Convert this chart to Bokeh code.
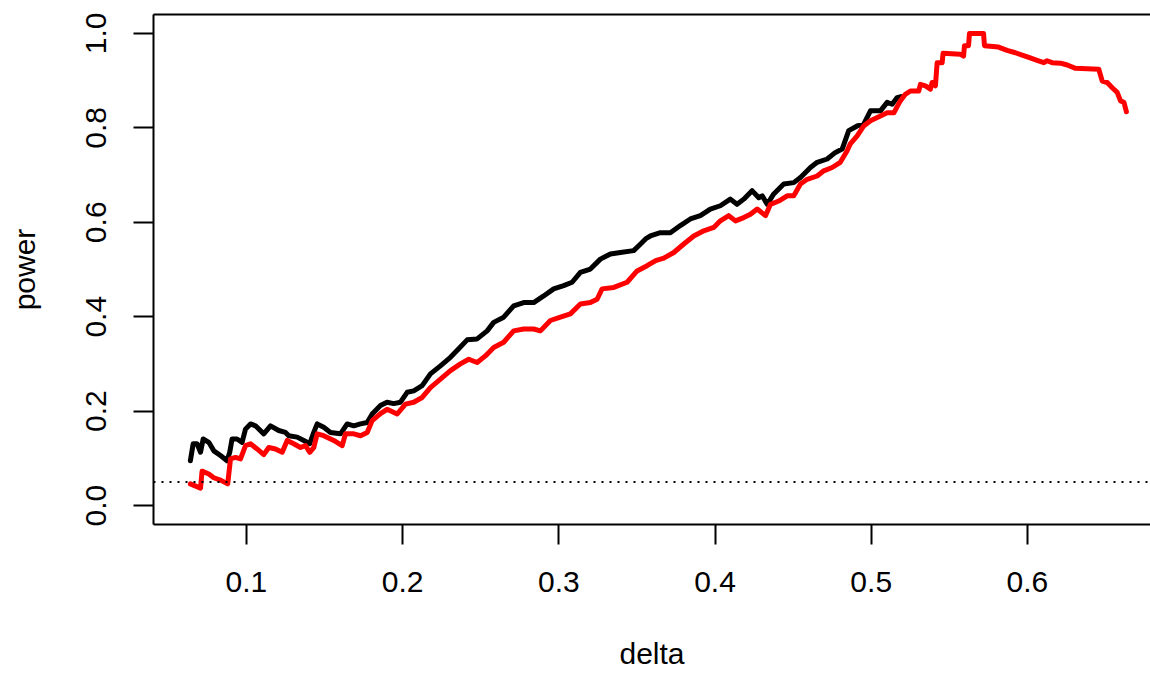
from bokeh.plotting import figure
from bokeh.models import FixedTicker, PrintfTickFormatter, Span, LinearAxis, Range1d
from bokeh.embed import file_html
from bokeh.resources import INLINE

# ---- data ----
black_delta = [0.0641, 0.0659, 0.0684, 0.0706, 0.0723, 0.0759, 0.0791, 0.0834, 0.0876, 0.0893,
               0.0908, 0.0940, 0.0972, 0.0994, 0.1026, 0.1058, 0.1111, 0.1154, 0.1207, 0.1250,
               0.1271, 0.1325, 0.1367, 0.1405, 0.1431, 0.1453, 0.1495, 0.1538, 0.1602, 0.1645,
               0.1687, 0.1730, 0.1773, 0.1805, 0.1858, 0.1900, 0.1943, 0.1986, 0.2029, 0.2071,
               0.2125, 0.2178, 0.2242, 0.2306, 0.2359, 0.2413, 0.2477, 0.2541, 0.2583, 0.2647,
               0.2711, 0.2775, 0.2839, 0.2903, 0.2967, 0.3031, 0.3085, 0.3138, 0.3202, 0.3266,
               0.3330, 0.3394, 0.3479, 0.3520, 0.3560, 0.3586, 0.3650, 0.3714, 0.3778, 0.3842,
               0.3906, 0.3970, 0.4034, 0.4098, 0.4141, 0.4184, 0.4237, 0.4280, 0.4302, 0.4334,
               0.4376, 0.4440, 0.4504, 0.4547, 0.4611, 0.4654, 0.4718, 0.4771, 0.4814, 0.4856,
               0.4910, 0.4952, 0.4995, 0.5059, 0.5102, 0.5134, 0.5166, 0.5190]
black_power = [0.095, 0.131, 0.131, 0.113, 0.141, 0.134, 0.116, 0.106, 0.095, 0.113,
               0.141, 0.141, 0.134, 0.162, 0.173, 0.169, 0.152, 0.169, 0.159, 0.155,
               0.148, 0.145, 0.138, 0.131, 0.155, 0.173, 0.166, 0.155, 0.152, 0.173,
               0.169, 0.173, 0.176, 0.194, 0.212, 0.219, 0.216, 0.219, 0.240, 0.243,
               0.254, 0.279, 0.296, 0.314, 0.332, 0.351, 0.353, 0.370, 0.388, 0.399,
               0.423, 0.430, 0.430, 0.444, 0.459, 0.466, 0.473, 0.494, 0.501, 0.522,
               0.533, 0.536, 0.540, 0.553, 0.566, 0.571, 0.578, 0.578, 0.593, 0.607,
               0.614, 0.628, 0.635, 0.649, 0.638, 0.649, 0.667, 0.652, 0.656, 0.638,
               0.660, 0.681, 0.684, 0.695, 0.716, 0.727, 0.734, 0.748, 0.755, 0.794,
               0.804, 0.808, 0.836, 0.836, 0.854, 0.850, 0.864, 0.866]

red_delta = [0.0641, 0.0706, 0.0716, 0.0759, 0.0791, 0.0834, 0.0880, 0.0898, 0.0930, 0.0962,
             0.0994, 0.1026, 0.1068, 0.1111, 0.1143, 0.1186, 0.1229, 0.1261, 0.1303, 0.1346,
             0.1378, 0.1405, 0.1431, 0.1453, 0.1495, 0.1559, 0.1613, 0.1634, 0.1687, 0.1730,
             0.1773, 0.1805, 0.1858, 0.1900, 0.1965, 0.2018, 0.2071, 0.2125, 0.2178, 0.2242,
             0.2306, 0.2370, 0.2423, 0.2477, 0.2530, 0.2583, 0.2647, 0.2711, 0.2775, 0.2839,
             0.2882, 0.2946, 0.3010, 0.3074, 0.3138, 0.3202, 0.3245, 0.3277, 0.3352, 0.3437,
             0.3501, 0.3565, 0.3620, 0.3672, 0.3736, 0.3800, 0.3864, 0.3928, 0.3992, 0.4034,
             0.4088, 0.4131, 0.4184, 0.4227, 0.4270, 0.4323, 0.4355, 0.4408, 0.4462, 0.4504,
             0.4547, 0.4590, 0.4654, 0.4696, 0.4750, 0.4802, 0.4845, 0.4866, 0.4910, 0.4952,
             0.4995, 0.5059, 0.5102, 0.5145, 0.5186, 0.5218, 0.5251, 0.5304, 0.5315, 0.5347,
             0.5379, 0.5390, 0.5411, 0.5422, 0.5454, 0.5460, 0.5569, 0.5591, 0.5597, 0.5623,
             0.5629, 0.5719, 0.5725, 0.5815, 0.5870, 0.5923, 0.5966, 0.6009, 0.6062, 0.6105,
             0.6126, 0.6158, 0.6212, 0.6255, 0.6308, 0.6457, 0.6479, 0.6511, 0.6543, 0.6575,
             0.6596, 0.6618, 0.6634]
red_power = [0.046, 0.037, 0.073, 0.067, 0.059, 0.054, 0.046, 0.099, 0.102, 0.099,
             0.127, 0.131, 0.120, 0.108, 0.123, 0.120, 0.113, 0.138, 0.131, 0.123,
             0.127, 0.113, 0.123, 0.152, 0.148, 0.138, 0.127, 0.152, 0.152, 0.148,
             0.155, 0.180, 0.195, 0.204, 0.194, 0.215, 0.219, 0.229, 0.250, 0.268,
             0.286, 0.300, 0.310, 0.303, 0.317, 0.335, 0.346, 0.370, 0.374, 0.374,
             0.370, 0.392, 0.399, 0.406, 0.427, 0.430, 0.437, 0.459, 0.462, 0.473,
             0.497, 0.508, 0.519, 0.524, 0.536, 0.554, 0.571, 0.582, 0.589, 0.603,
             0.614, 0.603, 0.610, 0.617, 0.628, 0.614, 0.638, 0.645, 0.656, 0.656,
             0.681, 0.691, 0.698, 0.709, 0.716, 0.727, 0.751, 0.766, 0.783, 0.804,
             0.815, 0.825, 0.832, 0.832, 0.857, 0.871, 0.878, 0.878, 0.892, 0.889,
             0.882, 0.896, 0.889, 0.938, 0.938, 0.958, 0.956, 0.952, 0.974, 0.974,
             1.000, 1.000, 0.974, 0.971, 0.964, 0.959, 0.954, 0.949, 0.943, 0.938,
             0.942, 0.938, 0.937, 0.933, 0.926, 0.924, 0.899, 0.896, 0.885, 0.875,
             0.857, 0.854, 0.834]

x_ticks = [0.1, 0.2, 0.3, 0.4, 0.5, 0.6]
y_ticks = [0.0, 0.2, 0.4, 0.6, 0.8, 1.0]
ref_level = 0.05
x_title = "delta"
y_title = "power"

FONT = "Liberation Sans"
FS = "30px"

p = figure(width=1150, height=673, output_backend="svg", toolbar_location=None,
           x_range=Range1d(0.0405, 0.6788), y_range=Range1d(-0.04, 1.04),
           min_border_left=153, min_border_right=0, min_border_top=14, min_border_bottom=149,
           x_axis_label=x_title, y_axis_label=y_title)
p.grid.visible = False
p.outline_line_color = None
p.background_fill_color = "white"
p.border_fill_color = "white"

for ax in (p.xaxis[0], p.yaxis[0]):
    ax.axis_line_color = "black"
    ax.axis_line_width = 2
    ax.major_tick_line_color = "black"
    ax.major_tick_line_width = 2
    ax.major_tick_out = 20
    ax.major_tick_in = 0
    ax.minor_tick_line_color = None
    ax.major_label_text_font = FONT
    ax.major_label_text_font_size = FS
    ax.major_label_text_color = "black"
    ax.axis_label_text_font = FONT
    ax.axis_label_text_font_size = FS
    ax.axis_label_text_font_style = "normal"
    ax.axis_label_text_color = "black"

p.xaxis[0].ticker = FixedTicker(ticks=x_ticks)
p.xaxis[0].major_label_standoff = 27
p.xaxis[0].axis_label_standoff = 42
p.yaxis[0].ticker = FixedTicker(ticks=y_ticks)
p.yaxis[0].formatter = PrintfTickFormatter(format="%.1f")
p.yaxis[0].major_label_orientation = "vertical"
p.yaxis[0].major_label_standoff = 27
p.yaxis[0].axis_label_standoff = 43

top = LinearAxis(ticker=FixedTicker(ticks=[]), major_tick_out=0, major_tick_in=0,
                 minor_tick_out=0, minor_tick_in=0, major_label_standoff=0,
                 axis_line_color="black", axis_line_width=2)
p.add_layout(top, "above")

p.add_layout(Span(location=ref_level, dimension="width", line_color="black",
                  line_width=2, line_dash="2 6"))

p.line(black_delta, black_power, line_color="black", line_width=5,
       line_join="round", line_cap="round")
p.line(red_delta, red_power, line_color="#FF0000", line_width=5,
       line_join="round", line_cap="round")

open("out.html", "w").write(file_html(p, INLINE))
